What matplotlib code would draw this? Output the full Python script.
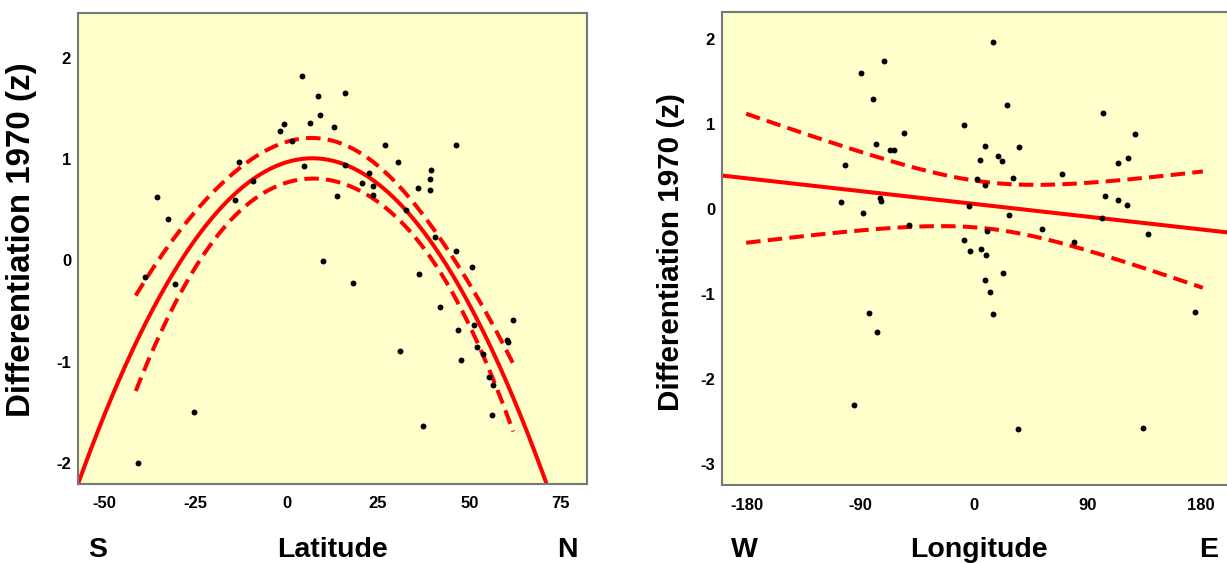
import numpy as np
import matplotlib
matplotlib.use('Agg')
import matplotlib.pyplot as plt

plt.rcParams['font.family'] = ['Liberation Sans', 'DejaVu Sans']
plt.rcParams['font.weight'] = 'bold'
plt.rcParams['axes.unicode_minus'] = False

# Latitude panel: (latitude, differentiation z)
lat = [4.3, 8.7, 15.9, 9.2, -0.7, -1.7, 6.5, 12.9, 1.4, 26.9,
       46.3, 30.6, -13.1, 4.7, 16.0, 22.5, 39.5, 39.1, -9.2, 20.7,
       23.6, 36.0, 39.1, 23.6, 13.9, -35.6, -14.2, 32.7, -32.5, 40.6,
       46.3, 9.9, 50.6, 36.2, -38.8, 18.2, -30.5, 42.0, 62.0, 51.4,
       46.9, 60.4, 60.7, 52.2, 53.7, 31.1, 47.7, 55.5, 56.5, -25.3,
       56.2, 37.2, -40.8]
lat_z = [1.82, 1.62, 1.65, 1.44, 1.35, 1.28, 1.36, 1.32, 1.18, 1.14,
         1.14, 0.97, 0.97, 0.93, 0.94, 0.86, 0.89, 0.80, 0.78, 0.76,
         0.74, 0.72, 0.70, 0.65, 0.64, 0.63, 0.60, 0.50, 0.41, 0.23,
         0.09, -0.01, -0.07, -0.13, -0.16, -0.22, -0.23, -0.46, -0.59, -0.64,
         -0.69, -0.79, -0.81, -0.86, -0.93, -0.90, -0.98, -1.15, -1.23, -1.50,
         -1.53, -1.64, -2.00]

# Longitude panel
lon = [15.4, -71.3, -90.1, -80.5, 26.0, 102.5, -7.9, -55.4, 128.0, -77.6,
       8.7, 35.8, -66.8, -63.4, 18.8, 22.3, 4.8, 122.2, 114.5, -102.3,
       70.0, 31.3, 2.7, 9.0, 104.4, -74.7, -73.9, 114.5, 121.4, -106.0,
       -3.5, -88.5, 28.1, 101.5, -51.4, 54.1, 10.6, 138.6, 79.5, -7.9,
       -3.2, 5.6, 9.5, 23.3, 8.5, 13.0, 15.1, -83.2, -76.9, 175.7,
       -95.4, 35.2, 134.1]
lon_z = [1.97, 1.74, 1.60, 1.30, 1.23, 1.13, 0.99, 0.90, 0.88, 0.77,
         0.74, 0.73, 0.69, 0.70, 0.62, 0.56, 0.58, 0.60, 0.54, 0.52,
         0.41, 0.37, 0.35, 0.28, 0.15, 0.13, 0.09, 0.11, 0.05, 0.08,
         0.03, -0.05, -0.07, -0.11, -0.19, -0.24, -0.26, -0.29, -0.39, -0.37,
         -0.49, -0.47, -0.54, -0.75, -0.84, -0.98, -1.24, -1.22, -1.45, -1.21,
         -2.31, -2.59, -2.58]

lat_ticks = [-50, -25, 0, 25, 50, 75]
lon_ticks = [-180, -90, 0, 90, 180]

BG = '#FFFFCC'
RED = '#FF0000'


def fit_with_ci(x, y, deg, grid, t=2.01):
    # OLS polynomial fit plus confidence band of the mean
    x = np.asarray(x)
    y = np.asarray(y)
    X = np.vander(x, deg + 1, increasing=True)
    beta, *_ = np.linalg.lstsq(X, y, rcond=None)
    resid = y - X @ beta
    s2 = resid @ resid / (len(x) - deg - 1)
    xtx_inv = np.linalg.inv(X.T @ X)
    G = np.vander(grid, deg + 1, increasing=True)
    yhat = G @ beta
    se = np.sqrt(s2 * np.einsum('ij,jk,ik->i', G, xtx_inv, G))
    return yhat, yhat - t * se, yhat + t * se


def style(ax):
    ax.set_facecolor(BG)
    for sp in ax.spines.values():
        sp.set_color('#777777')
        sp.set_linewidth(1.5)
    ax.tick_params(length=0, labelsize=12)
    ax.tick_params(axis='x', pad=9)
    ax.tick_params(axis='y', pad=5)
    for lab in ax.get_xticklabels() + ax.get_yticklabels():
        lab.set_fontweight('bold')


fig = plt.figure(figsize=(12.27, 5.63), dpi=100)

# left: latitude, quadratic fit
ax1 = fig.add_axes([78 / 1227, 79 / 563, 509 / 1227, 471 / 563])
ax1.set_xlim(-57.1, 82.2)
ax1.set_ylim(-2.21, 2.445)
g_full = np.linspace(-57.1, 82.2, 300)
g_ci = np.linspace(-41.3, 62.0, 300)
yh, _, _ = fit_with_ci(lat, lat_z, 2, g_full)
_, lo, hi = fit_with_ci(lat, lat_z, 2, g_ci, t=1.43)
ax1.plot(g_full, yh, color=RED, lw=2.9, zorder=2)
ax1.plot(g_ci, lo, color=RED, lw=2.9, dashes=(3.6, 1.8), zorder=2)
ax1.plot(g_ci, hi, color=RED, lw=2.9, dashes=(3.6, 1.8), zorder=2)
ax1.scatter(lat, lat_z, s=18, color='black', zorder=3, linewidths=0)
ax1.set_xticks(lat_ticks)
ax1.set_yticks([-2, -1, 0, 1, 2])
ax1.set_ylabel('Differentiation 1970 (z)', fontsize=23.9, fontweight='bold')
ax1.yaxis.set_label_coords(-0.0811, 0.519)
style(ax1)

# right: longitude, linear fit
ax2 = fig.add_axes([722 / 1227, 78 / 563, 506 / 1227, 473 / 563])
ax2.set_xlim(-200.2, 202)
ax2.set_ylim(-3.25, 2.32)
g_full2 = np.linspace(-200.2, 202, 200)
g_ci2 = np.linspace(-181, 182, 200)
yh2, _, _ = fit_with_ci(lon, lon_z, 1, g_full2)
_, lo2, hi2 = fit_with_ci(lon, lon_z, 1, g_ci2)
ax2.plot(g_full2, yh2, color=RED, lw=2.9, zorder=2)
ax2.plot(g_ci2, lo2, color=RED, lw=2.9, dashes=(3.6, 1.8), zorder=2)
ax2.plot(g_ci2, hi2, color=RED, lw=2.9, dashes=(3.6, 1.8), zorder=2)
ax2.scatter(lon, lon_z, s=18, color='black', zorder=3, linewidths=0)
ax2.set_xticks(lon_ticks)
ax2.set_yticks([-3, -2, -1, 0, 1, 2])
ax2.set_ylabel('Differentiation 1970 (z)', fontsize=21.3, fontweight='bold')
ax2.yaxis.set_label_coords(-0.0731, 0.4915)
style(ax2)

# axis titles with compass letters
yb = 6 / 563
for x, txt in [(97.7, 'S'), (332, 'Latitude'), (567.7, 'N'),
               (744.3, 'W'), (978.5, 'Longitude'), (1208.7, 'E')]:
    fig.text(x / 1227, yb, txt, ha='center', va='baseline',
             fontsize=20.5, fontweight='bold')

fig.savefig('out.png', dpi=100)
